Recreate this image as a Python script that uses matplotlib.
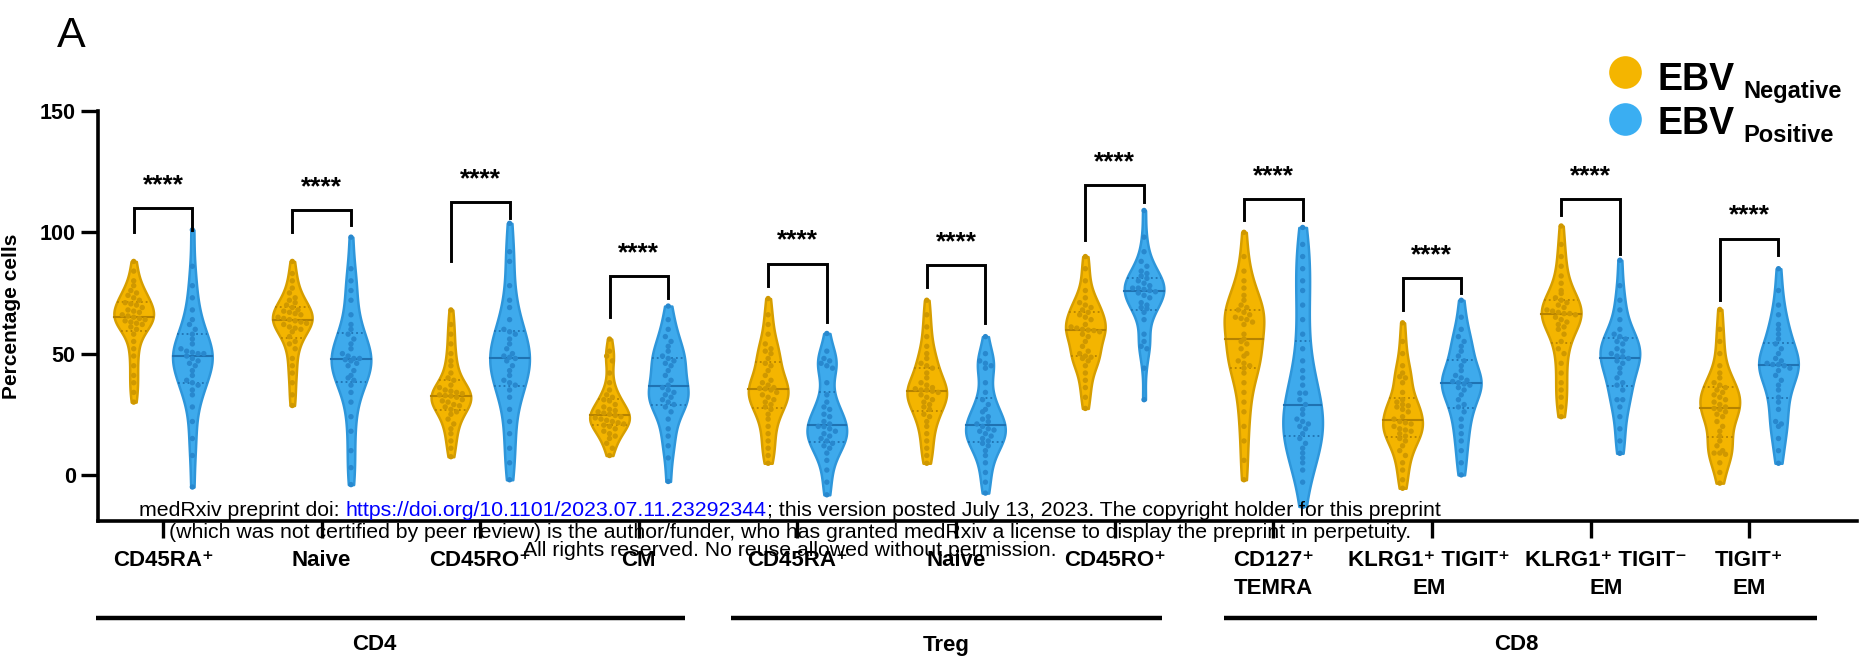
import numpy as np
import matplotlib
matplotlib.use("Agg")
import matplotlib.pyplot as plt
from matplotlib import cbook, mlab
from matplotlib.transforms import blended_transform_factory

# ---------------- data ----------------
categories = ["CD45RA⁺", "Naive", "CD45RO⁺", "CM", "CD45RA⁺", "Naive", "CD45RO⁺",
              "CD127⁺\nTEMRA", "KLRG1⁺ TIGIT⁺\nEM", "KLRG1⁺ TIGIT⁻\nEM", "TIGIT⁺\nEM"]
groups = ["CD4", "Treg", "CD8"]
group_spans = [(-0.42, 3.29), (3.58, 6.30), (6.69, 10.43)]
group_label_x = [1.33, 4.94, 8.53]
series_names = ["Negative", "Positive"]

ebv_negative = [
    [88, 84, 80, 78, 76, 75, 74, 73, 72, 71, 70.5, 70, 69, 68, 67.5, 67, 66, 65.5, 65, 64.5,
     64, 63.5, 63, 62.5, 62, 61, 60, 58, 55, 52, 49, 45, 41, 38, 34, 30],
    [88, 83, 80, 77, 75, 73, 72, 71, 70, 69, 68, 67.5, 67, 66.5, 66, 65, 64.5, 64, 63.5, 63,
     62.5, 62, 61, 60.5, 60, 59, 57, 55, 54, 52, 48, 45, 42, 38, 33, 28.6],
    [68, 62, 58, 54, 50, 47, 45, 42, 40, 39, 37, 36, 35, 34.5, 34, 33.5, 33, 32.7, 32.5, 32,
     31, 30.5, 30, 29, 28.5, 28, 27, 26, 25, 23, 21, 19, 17, 14, 11, 7.5],
    [56, 51, 49, 47, 42, 38, 35, 33, 32, 31, 30.5, 29, 28, 27, 26.5, 26, 25.5, 25, 24.5, 24,
     23.5, 23, 22.5, 22, 21.5, 21, 20.5, 20, 19, 18, 17, 16, 15, 13, 11, 8],
    [72.7, 66, 62, 58, 54, 52, 51, 50, 48, 46, 45, 43, 41, 39, 38, 37, 36, 35.7, 35.5, 35,
     34, 33, 32, 31, 30, 29, 28, 27, 25, 23, 20, 17, 14, 11, 8, 4.8],
    [72, 66, 61, 57, 53, 50, 48, 46, 45, 44, 42, 40, 38, 37, 36, 35.5, 35, 35, 34.5, 34,
     33, 32, 31, 30, 29, 28, 27, 25, 24, 22, 20, 17, 14, 11, 8, 4.8],
    [90, 85, 80, 76, 73, 71, 70, 69, 68, 67, 66, 65, 64, 62, 61, 60.5, 60, 59.7, 59.5, 59,
     58, 57, 55, 53, 51, 50, 49, 48.5, 48, 47, 45, 42, 39, 36, 32, 27.4],
    [100, 90, 84, 80, 77, 74, 72, 70, 69, 68, 67, 66, 65, 64.5, 64, 63, 62, 58, 56, 55,
     54, 52, 50, 49, 47, 46, 45, 44, 42, 38, 34, 30, 26, 20, 14, 6, -2],
    [62.7, 55, 50, 45, 42, 40.5, 40, 38, 34, 31, 30, 29, 28.5, 28, 27, 26, 24, 23, 22, 21.5,
     21, 20, 19, 18.5, 18, 17, 16, 15, 14, 12, 10, 8, 5, 2, -2, -5.5],
    [102.6, 95, 90, 86, 82, 79, 76, 74.8, 73, 72, 71, 70, 69, 68, 67.5, 67, 66.5, 66.5, 66, 65,
     64, 63, 62, 61, 60, 58, 55, 52, 50, 46, 42, 38, 35, 32, 28, 24],
    [68.2, 60, 55, 50, 45, 42, 40, 38, 37, 36, 35, 34, 33, 32, 31, 30, 29, 28, 27.4, 27,
     26, 25, 24, 22, 20, 18, 16, 14, 12, 10, 9, 9, 8.5, 5, 1, -3.4],
]
ebv_positive = [
    [101, 86, 78, 73, 68, 64, 62, 60, 58, 56, 54, 52, 51, 50.5, 50, 50, 49, 48, 47, 46,
     45, 43, 41, 39, 38, 37, 35, 33, 28, 22, 15, 8, -5],
    [98, 85, 80, 76, 72, 66, 62, 60, 58, 56, 54, 52, 50, 49, 48, 48, 47.5, 47, 46, 45,
     43, 41, 40, 39, 37, 34, 30, 24, 18, 10, 3, -4],
    [103.7, 92, 88, 78, 72, 69, 64, 60, 59, 58, 56, 54, 52, 50, 49, 48.5, 48, 47, 45, 43,
     41, 39, 38, 37, 35, 32, 27, 22, 17, 11, 5, -2],
    [69.6, 64, 60, 57, 55, 53, 51, 49, 48, 47, 46, 45, 43, 41, 39, 37, 36, 35, 34, 33,
     32, 31, 30, 29, 28, 26, 23, 19, 16, 12, 7, -2.7],
    [58.3, 51, 48, 47, 46, 45, 44, 38, 33, 30, 28, 27, 25, 24, 22, 21, 20, 19.9, 19, 18,
     17, 16, 15, 14, 13, 12, 11, 9, 6, 2, -3, -8.2],
    [57, 50, 47, 46, 45, 44, 38, 34, 31, 29, 27, 26, 24, 23, 22, 21, 20, 19, 18.5, 18,
     17, 16, 15, 14, 13, 12, 10, 8, 5, 1, -3, -7.5],
    [109, 98, 92, 88, 86, 84, 83, 82, 81, 80, 79, 78, 77, 77, 76.5, 76, 75.5, 75, 74, 73,
     71, 70, 69, 68.5, 67, 64, 58, 55, 53, 52, 44, 31],
    [102, 95, 90, 85, 80, 76, 70, 64, 58, 52, 47, 43, 40, 37, 33.7, 33.7, 31, 29, 27, 25,
     23, 22, 21, 20, 19, 17, 15, 13, 11, 9, 7, 5, 2, -3, -13],
    [72, 65, 60, 57, 55, 53, 51, 49, 47, 45, 43, 41, 40, 39, 38.5, 38, 37.5, 37, 36, 35,
     33, 31, 29, 28, 26, 23, 20, 17, 14, 10, 5, 0],
    [88.5, 78, 72, 68, 64, 60, 58, 57, 56, 55, 54, 52, 51, 50, 49, 48.7, 48, 47, 46, 44,
     42, 40, 38, 37, 35, 31, 31, 28, 24, 19, 14, 8.9],
    [85, 76, 70, 66, 62, 60, 58, 56, 54, 52, 50, 48, 47, 46, 45.5, 45.5, 45, 44, 43, 41,
     39, 37, 35, 32, 30, 27, 22, 21, 20, 15, 10, 4.8],
]
significance = ["****"] * 11
bracket_top = [110, 109, 112.5, 82, 87, 86.4, 119.3, 113.6, 81, 113.6, 97.4]
bracket_left_end = [100, 100, 88, 65, 78, 77.5, 96.7, 105, 68, 107, 72]
bracket_right_end = [101, 103, 106, 73, 63, 62.7, 112.5, 105, 74.8, 91, 90.5]
yticks = [0, 50, 100, 150]

# ---------------- style ----------------
W, H = 1872, 665
fig = plt.figure(figsize=(W / 100, H / 100), dpi=100)
BOLD = dict(family=["Liberation Sans", "DejaVu Sans"], weight="bold")
REG = ["Liberation Sans Narrow", "Liberation Sans", "DejaVu Sans"]

ax_l, ax_r, ax_t, ax_b = 98, 1857, 111, 521
ax = fig.add_axes([ax_l / W, 1 - ax_b / H, (ax_r - ax_l) / W, (ax_b - ax_t) / H])
ax.set_xlim(-0.41, 10.68)
ax.set_ylim(-19, 150)

neg_fill, neg_edge, neg_dot, neg_med = "#F4B500", "#D69E00", "#CF9800", "#B58200"
pos_fill, pos_edge, pos_dot, pos_med = "#3EAAEC", "#2E96DA", "#2888CE", "#1F72B2"
vw = 0.25
off = 0.185
BW = 0.36


def kde_fn(X, coords):
    return mlab.GaussianKDE(X, BW).evaluate(coords)


def draw_series(data, positions, fill, edge, dot, med):
    stats = cbook.violin_stats(data, kde_fn, points=200)
    parts = ax.violin(stats, positions=positions, widths=vw, showextrema=False)
    for b in parts["bodies"]:
        b.set_facecolor(fill)
        b.set_edgecolor(edge)
        b.set_linewidth(1.8)
        b.set_alpha(1)
        b.set_zorder(2)
    for st, vals, p in zip(stats, data, positions):
        vals = np.asarray(vals, float)
        coords, dens = st["coords"], st["vals"]
        hw = lambda y: np.interp(y, coords, dens) / dens.max() * vw / 2
        q1, q2, q3 = np.percentile(vals, [25, 50, 75])
        for q, ls, lw in [(q1, ":", 1.3), (q2, "-", 1.5), (q3, ":", 1.3)]:
            h = hw(q)
            ax.plot([p - h, p + h], [q, q], color=med, lw=lw, ls=ls, zorder=3)
        # deterministic swarm layout of points
        bin_h = 2.6
        bins = np.floor((vals - vals.min()) / bin_h).astype(int)
        xo = np.zeros(len(vals))
        for bb in np.unique(bins):
            idx = np.where(bins == bb)[0]
            k = len(idx)
            if k > 1:
                h = hw(vals[idx].mean())
                sp = min(0.036, 2 * h * 0.75 / (k - 1))
                xo[idx] = (np.arange(k) - (k - 1) / 2) * sp
        ax.scatter(p + xo, vals, s=15, color=dot, edgecolors="none", zorder=4)


pos = np.arange(len(categories))
draw_series(ebv_negative, pos - off, neg_fill, neg_edge, neg_dot, neg_med)
draw_series(ebv_positive, pos + off, pos_fill, pos_edge, pos_dot, pos_med)

# significance brackets
for i, s in enumerate(significance):
    xl, xr = pos[i] - off, pos[i] + off
    ax.plot([xl, xl, xr, xr], [bracket_left_end[i], bracket_top[i], bracket_top[i], bracket_right_end[i]],
            color="black", lw=2.1, solid_joinstyle="miter", zorder=5, clip_on=False)
    ax.text(pos[i], bracket_top[i] + 9.5, s, ha="center", va="center", fontsize=19, zorder=5, **BOLD)

# axes styling
for sp in ["top", "right"]:
    ax.spines[sp].set_visible(False)
for sp in ["left", "bottom"]:
    ax.spines[sp].set_linewidth(2.6)
ax.set_yticks(yticks)
ax.set_yticklabels([str(t) for t in yticks], fontsize=15.5, **BOLD)
ax.tick_params(axis="y", length=12, width=2.4, pad=4)
ax.set_xticks(pos)
ax.set_xticklabels([""] * len(pos))
ax.tick_params(axis="x", length=12, width=2.4)
ax.set_ylabel("Percentage cells", fontsize=15, **BOLD)
ax.yaxis.set_label_coords((21 - ax_l) / (ax_r - ax_l), 0.5)

# category labels
tr = blended_transform_factory(ax.transData, fig.transFigure)
line_y = [1 - 560 / H, 1 - 588 / H]
label_shift = [0, 0, 0, 0, 0, 0, 0, 0, -0.02, 0.1, 0]
for i, lab in enumerate(categories):
    for j, ln in enumerate(lab.split("\n")):
        ax.text(pos[i] + label_shift[i], line_y[j], ln, transform=tr, ha="center", va="center",
                fontsize=16, clip_on=False, **BOLD)

# group lines and labels
for (a, b), g, gx in zip(group_spans, groups, group_label_x):
    ax.plot([a, b], [1 - 618 / H] * 2, transform=tr, color="black", lw=3.2, clip_on=False,
            solid_capstyle="butt")
    ax.text(gx, 1 - 645 / H, g, transform=tr, ha="center", va="center", fontsize=16,
            clip_on=False, **BOLD)

# panel letter
fig.text(57 / W, 1 - 47 / H, "A", fontsize=31, family=["Liberation Sans", "DejaVu Sans"],
         va="baseline", ha="left")

# legend
for (cy, col, nm, by, sy) in [(72, neg_fill, series_names[0], 90, 98),
                              (119, "#3AAEF2", series_names[1], 134, 142)]:
    fig.add_artist(plt.Line2D([1625 / W], [1 - cy / H], marker="o", ms=23.5, color=col,
                              markeredgecolor="none", transform=fig.transFigure, linestyle="none"))
    fig.text(1657 / W, 1 - by / H, "EBV", fontsize=27, va="baseline", ha="left", **BOLD)
    fig.text(1743 / W, 1 - sy / H, nm, fontsize=17, va="baseline", ha="left", **BOLD)

# medRxiv watermark
wm_size = 15.3
renderer = fig.canvas.get_renderer()
lines = [
    [("medRxiv preprint doi: ", "black"), ("https://doi.org/10.1101/2023.07.11.23292344", "#0000FF"),
     ("; this version posted July 13, 2023. The copyright holder for this preprint", "black")],
    [("(which was not certified by peer review) is the author/funder, who has granted medRxiv a license to display the preprint in perpetuity.", "black")],
    [("All rights reserved. No reuse allowed without permission.", "black")],
]
wm_y = [510, 532, 551]
cx = 790
for parts, yy in zip(lines, wm_y):
    texts = []
    for s, c in parts:
        t = fig.text(0, 1 - yy / H, s, color=c, fontsize=wm_size, family=REG, va="center",
                     ha="left", zorder=10)
        texts.append(t)
    widths = [t.get_window_extent(renderer).width for t in texts]
    x = cx - sum(widths) / 2
    for t, w in zip(texts, widths):
        t.set_x(x / W)
        x += w

fig.savefig("out.png", dpi=100)
